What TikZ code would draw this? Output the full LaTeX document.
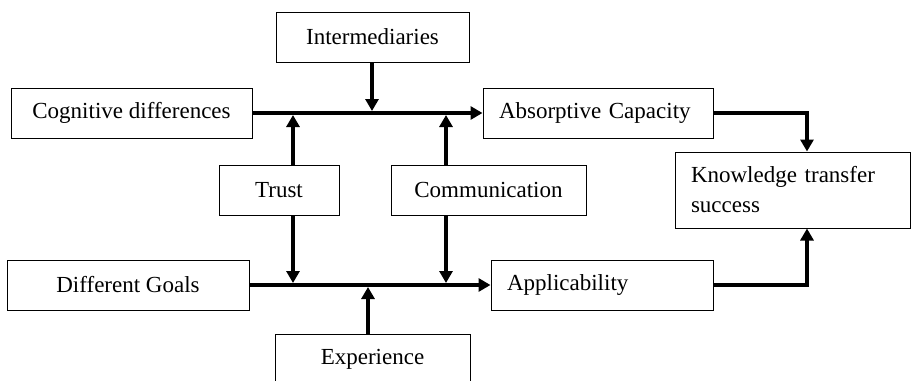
\documentclass[tikz,border=0pt]{standalone}
\usepackage{fontspec}
\setmainfont{Liberation Serif}
\usetikzlibrary{arrows.meta}

\begin{document}
\begin{tikzpicture}[x=1pt, y=-1pt,
    box/.style={draw, line width=1pt, minimum height=50pt, inner sep=0pt,
        font=\fontsize{23}{30}\selectfont},
    flow/.style={line width=4pt, -{Triangle[length=12pt, width=13pt]}}]
\useasboundingbox (0,0) rectangle (912,380);

% Boxes
\node[box, minimum width=193pt] (inter) at (372.5,37) {Intermediaries};
\node[box, minimum width=241pt] (cogn) at (131.5,113) {Cognitive differences};
\node[box, minimum width=120pt] (trust) at (279,190) {Trust};
\node[box, minimum width=195pt] (comm) at (488.5,190) {Communication};
\node[box, minimum width=242pt] (goals) at (128,285) {Different Goals};
\node[box, minimum width=195pt] (exper) at (372.5,359) {Experience};
\node[box, inner xsep=16pt, text width=198pt, align=left] (absorp) at (598,113) {Absorptive Capacity};
\node[box, inner xsep=16pt, text width=190pt, align=left] (appl) at (602,285) {Applicability};
\node[box, inner xsep=16pt, text width=203pt, minimum height=76pt, align=left] (know) at (792.5,190) {Knowledge transfer\\success};

% x positions of the vertical arrows
\coordinate (ix) at (372,0);
\coordinate (tx) at (293,0);
\coordinate (cx) at (446,0);
\coordinate (ex) at (368,0);
\coordinate (kx) at (807,0);

% Main flows
\draw[flow] (cogn.east) -- (absorp.west);
\draw[flow] (goals.east) -- (appl.west);

% Moderators
\draw[flow, shorten >=2pt] (ix |- inter.south) -- (ix |- cogn.east);
\draw[flow, shorten >=2pt] (tx |- trust.north) -- (tx |- cogn.east);
\draw[flow, shorten >=2pt] (cx |- comm.north) -- (cx |- cogn.east);
\draw[flow, shorten >=2pt] (tx |- trust.south) -- (tx |- goals.east);
\draw[flow, shorten >=2pt] (cx |- comm.south) -- (cx |- goals.east);
\draw[flow, shorten >=2pt] (ex |- exper.north) -- (ex |- goals.east);

% To outcome
\draw[flow] (absorp.east) -| (kx |- know.north);
\draw[flow] (appl.east) -| (kx |- know.south);
\end{tikzpicture}
\end{document}
